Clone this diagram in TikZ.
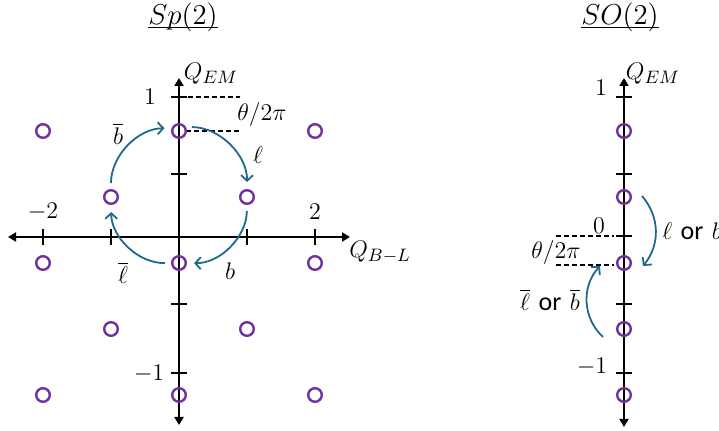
\documentclass[tikz,border=0pt]{standalone}
\usepackage{fontspec}
\newfontfamily\orfont{Carlito}
\usetikzlibrary{arrows.meta}
\definecolor{chargepurple}{RGB}{112,48,160}
\definecolor{hopteal}{RGB}{31,105,138}
\tikzset{
  charge/.style={circle, draw=chargepurple, line width=1.2pt, minimum size=6.8pt, inner sep=0pt},
  axis/.style={line width=1.4pt, {Triangle[length=4pt,width=4.5pt]}-{Triangle[length=4pt,width=4.5pt]}},
  tickmark/.style={line width=0.9pt},
  hop/.style={draw=hopteal, line width=0.9pt, -{Straight Barb[length=2.8pt,width=6pt]}, shorten <=3pt, shorten >=3.5pt},
  lbl/.style={font=\fontsize{13}{15}\selectfont, inner sep=0pt},
  grouptitle/.style={font=\fontsize{15}{17}\selectfont, inner sep=0pt, anchor=base},
  guide/.style={line width=0.7pt, dash pattern=on 2.5pt off 1.5pt},
}
\begin{document}
\begin{tikzpicture}[x=0.5pt, y=-0.5pt]
\useasboundingbox (0,0) rectangle (719,431);
% titles
\node[grouptitle] (sptitle) at (183,25) {$Sp(2)$};
\draw[line width=0.7pt] ([yshift=-1.2pt]sptitle.base west) -- ([yshift=-1.2pt]sptitle.base east);
\node[grouptitle] (sotitle) at (620,25) {$SO(2)$};
\draw[line width=0.7pt] ([yshift=-1.2pt]sotitle.base west) -- ([yshift=-1.2pt]sotitle.base east);

% Sp(2) lattice
\draw[axis] (8,237) -- (350,237);
\draw[axis] (179,78) -- (179,425);
\foreach \x in {43,111,247,315} \draw[tickmark] (\x,229) -- (\x,245);
\foreach \y in {97,174,304,373} \draw[tickmark] (171,\y) -- (187,\y);
\draw[guide] (188,97) -- (240,97);
\draw[guide] (186,131) -- (240,131);
\foreach \c/\k in {0/0,2/0,4/0,1/1,3/1,0/2,2/2,4/2,1/3,3/3,0/4,2/4,4/4}
  \node[charge] (L\c\k) at ({43+68*\c},{131+66*\k}) {};
\node[lbl] (qem) at (211,74) {$Q_{EM}$};
\node[lbl] (qbl) at (380,252) {$Q_{B-L}$};
\node[lbl] (one) at (150,97) {$1$};
\node[lbl] (mone) at (149,374) {$-1$};
\node[lbl] (mtwo) at (43,212) {$-2$};
\node[lbl] (two) at (315,212) {$2$};
\node[lbl] (theta) at (262,115) {$\theta/2\pi$};
\draw[hop, bend left=45] (L11.north) to (L20.160);
\draw[hop, bend left=45] (L20.30) to (L31.north);
\draw[hop, bend left=45] (L31.south) to (L22.east);
\draw[hop, bend left=45] (L22.west) to (L11.south);
\node[lbl] (bbar) at (118,134) {$\overline{b}$};
\node[lbl] (ell) at (258,155) {$\ell$};
\node[lbl] (ellbar) at (123,273) {$\overline{\ell}$};
\node[lbl] (bq) at (230,271) {$b$};

% SO(2) line
\draw[axis] (624,78) -- (624,427);
\foreach \y in {97,174,236,304,373} \draw[tickmark] (616,\y) -- (632,\y);
\draw[guide] (556,236) -- (614,236);
\draw[guide] (556,265) -- (614,265);
\foreach \k in {0,...,4}
  \node[charge] (R\k) at (624,{131+66*\k}) {};
\node[lbl] (qemr) at (653,74) {$Q_{EM}$};
\node[lbl] (oner) at (601,88) {$1$};
\node[lbl] (zeror) at (599,226) {$0$};
\node[lbl] (moner) at (592,367) {$-1$};
\node[lbl] (thetar) at (556,253) {$\theta/2\pi$};
\draw[hop, shorten <=0pt, shorten >=0pt, bend left=40] ([xshift=9pt,yshift=0.5pt]R1.center) to ([xshift=9.5pt,yshift=-1.5pt]R2.center);
\draw[hop, shorten <=0pt, shorten >=0pt, bend left=45] ([xshift=-10.5pt,yshift=-4pt]R3.center) to ([xshift=-12pt,yshift=-1.5pt]R2.center);
\node[lbl, anchor=west] (down) at (662,231) {$\ell$ {\orfont or} $b$};
\node[lbl] (up) at (550,300) {$\overline{\ell}$ {\orfont or} $\overline{b}$};
\end{tikzpicture}
\end{document}
